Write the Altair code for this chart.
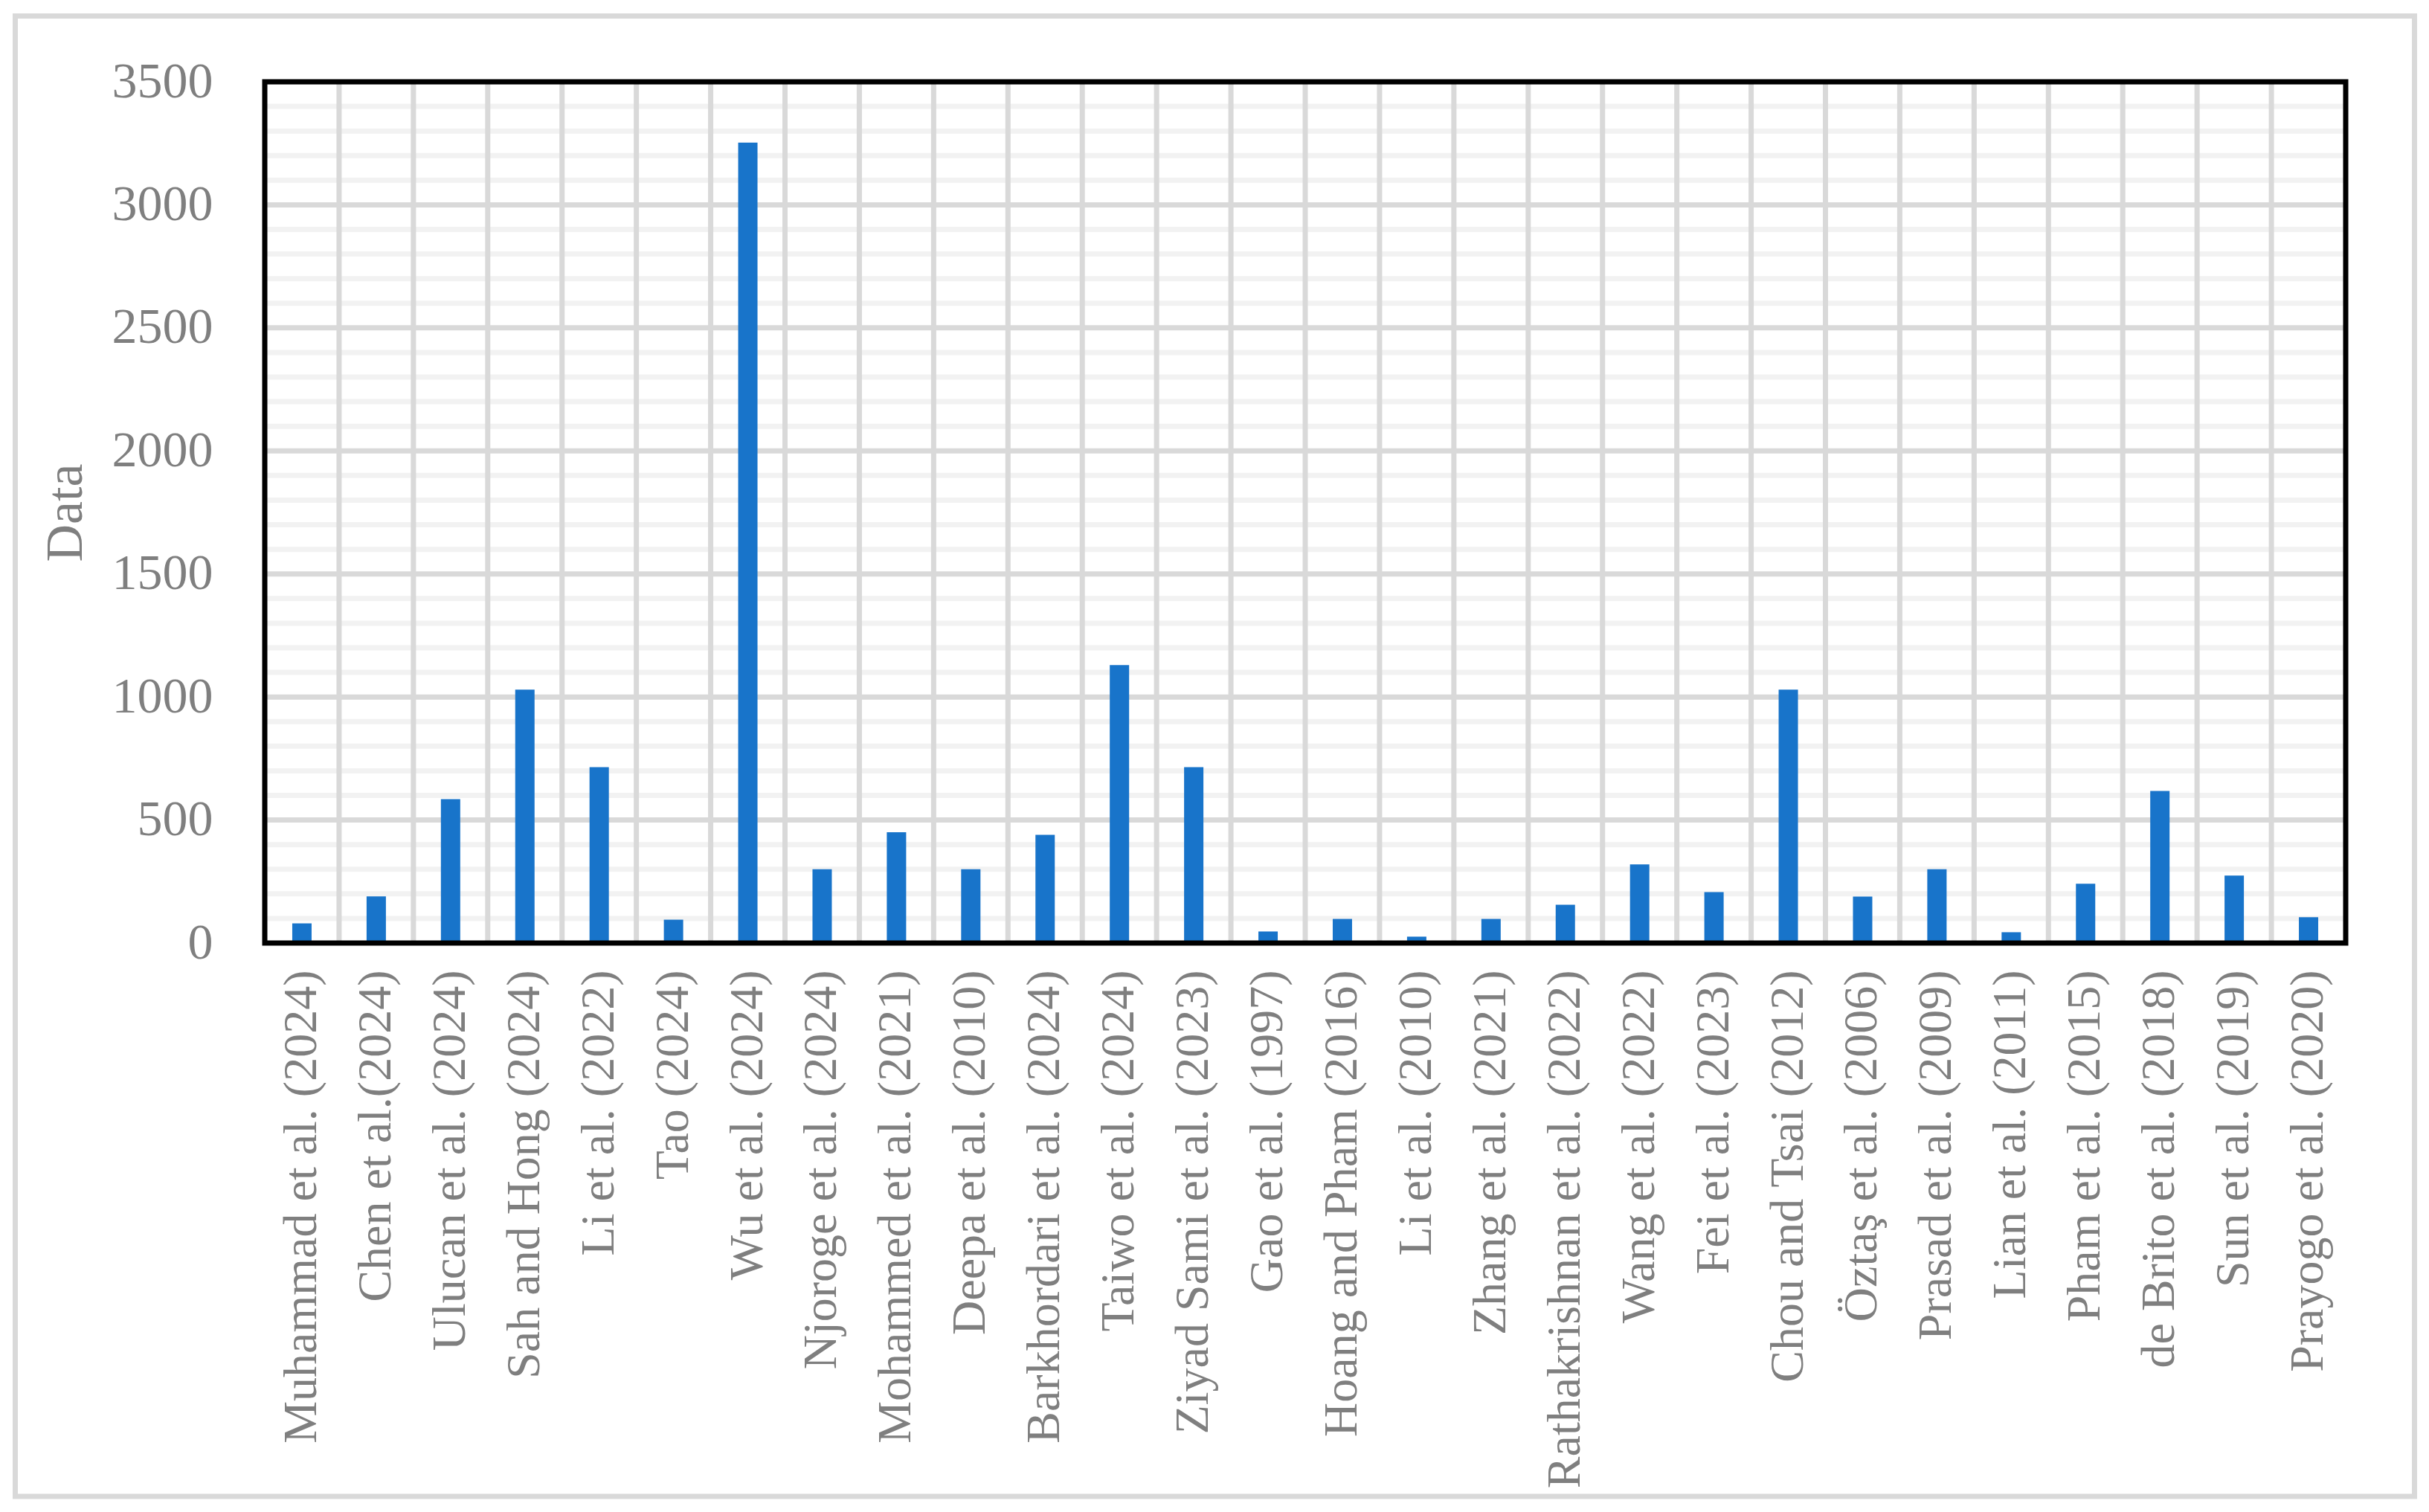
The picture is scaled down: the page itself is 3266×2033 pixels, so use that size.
import altair as alt
import pandas as pd

categories = [
    "Muhammad et al. (2024)", "Chen et al.(2024)", "Ulucan et al. (2024)",
    "Sah and Hong (2024)", "Li et al. (2022)", "Tao (2024)", "Wu et al. (2024)",
    "Njoroge et al. (2024)", "Mohammed et al. (2021)", "Deepa et al. (2010)",
    "Barkhordari et al. (2024)", "Taiwo et al. (2024)", "Ziyad Sami et al. (2023)",
    "Gao et al. (1997)", "Hoang and Pham (2016)", "Li et al. (2010)",
    "Zhang et al. (2021)", "Rathakrishnan et al. (2022)", "Wang et al. (2022)",
    "Fei et al. (2023)", "Chou and Tsai (2012)", "Öztaş et al. (2006)",
    "Prasad et al. (2009)", "Lian et al. (2011)", "Pham et al. (2015)",
    "de Brito et al. (2018)", "Sun et al. (2019)", "Prayogo et al. (2020)",
]
values = [80, 190, 585, 1030, 715, 95, 3253, 300, 450, 300, 440, 1130, 715, 47,
          98, 26, 98, 156, 320, 207, 1030, 189, 300, 44, 241, 618, 274, 105]
y_ticks = [0, 500, 1000, 1500, 2000, 2500, 3000, 3500]
major_lines = [500, 1000, 1500, 2000, 2500, 3000]
minor_lines = [v for v in range(100, 3500, 100) if v % 500 != 0]

FONT = "Liberation Serif"
GRAY = "#7f7f7f"
W, H = 2798, 1158

df = pd.DataFrame({"cat": categories, "value": values})
# inner category boundaries (the outer two are covered by the plot border)
boundary_df = pd.DataFrame({"cat": categories[1:]})
minor_df = pd.DataFrame({"v": minor_lines})
major_df = pd.DataFrame({"v": major_lines})

x_axis = alt.Axis(
    labelAngle=-90, labelAlign="right", labelBaseline="middle",
    labelFont=FONT, labelFontSize=64, labelColor=GRAY, labelPadding=36,
    labelLimit=2000, labelOverlap=False, domain=False, ticks=False, tickSize=0,
    grid=False, title=None,
)
y_axis = alt.Axis(
    values=y_ticks, format="d", grid=False, domain=False, ticks=False, tickSize=0,
    labelFont=FONT, labelFontSize=68, labelColor=GRAY, labelPadding=70,
    labelOverlap=False, title="Data", titleFont=FONT, titleFontSize=70,
    titleColor=GRAY, titleFontWeight="normal", titleAngle=270, titleX=-268,
    titleY=H / 2, titleAlign="center", titleBaseline="middle",
)
x_scale = alt.Scale(paddingInner=0, paddingOuter=0)
y_scale = alt.Scale(domain=[0, 3500], nice=False, zero=True)

minor = alt.Chart(minor_df).mark_rule(color="#f2f2f2", strokeWidth=7).encode(
    y=alt.Y("v:Q", scale=y_scale, axis=y_axis, title="Data")
)
vgrid = alt.Chart(boundary_df).mark_rule(color="#d9d9d9", strokeWidth=7).encode(
    x=alt.X("cat:N", sort=categories, scale=x_scale, axis=x_axis, bandPosition=0)
)
major = alt.Chart(major_df).mark_rule(color="#d9d9d9", strokeWidth=7).encode(
    y=alt.Y("v:Q", scale=y_scale, axis=y_axis, title="Data")
)
bars = alt.Chart(df).mark_bar(color="#1874ca", size=26).encode(
    x=alt.X("cat:N", sort=categories, scale=x_scale, axis=x_axis),
    y=alt.Y("value:Q", scale=y_scale, axis=y_axis, title="Data"),
)
one = pd.DataFrame({"a": [0]})
plot_border = alt.Chart(one).mark_rect(
    fillOpacity=0, stroke="black", strokeWidth=7
).encode(
    x=alt.value(0), x2=alt.value(W), y=alt.value(0), y2=alt.value(H)
)
frame = alt.Chart(one).mark_rect(
    fillOpacity=0, stroke="#d9d9d9", strokeWidth=7
).encode(
    x=alt.value(-335.5), x2=alt.value(2890.5), y=alt.value(-88.5), y2=alt.value(1902)
)

chart = alt.layer(minor, vgrid, major, bars, plot_border, frame).properties(
    width=W, height=H,
    autosize=alt.AutoSizeParams(type="none"),
    padding={"left": 348, "top": 102, "right": 100, "bottom": 752},
    background="white",
).configure_view(stroke=None, strokeWidth=0)

chart.save("out.html", embed_options={"renderer": "svg", "actions": False})
